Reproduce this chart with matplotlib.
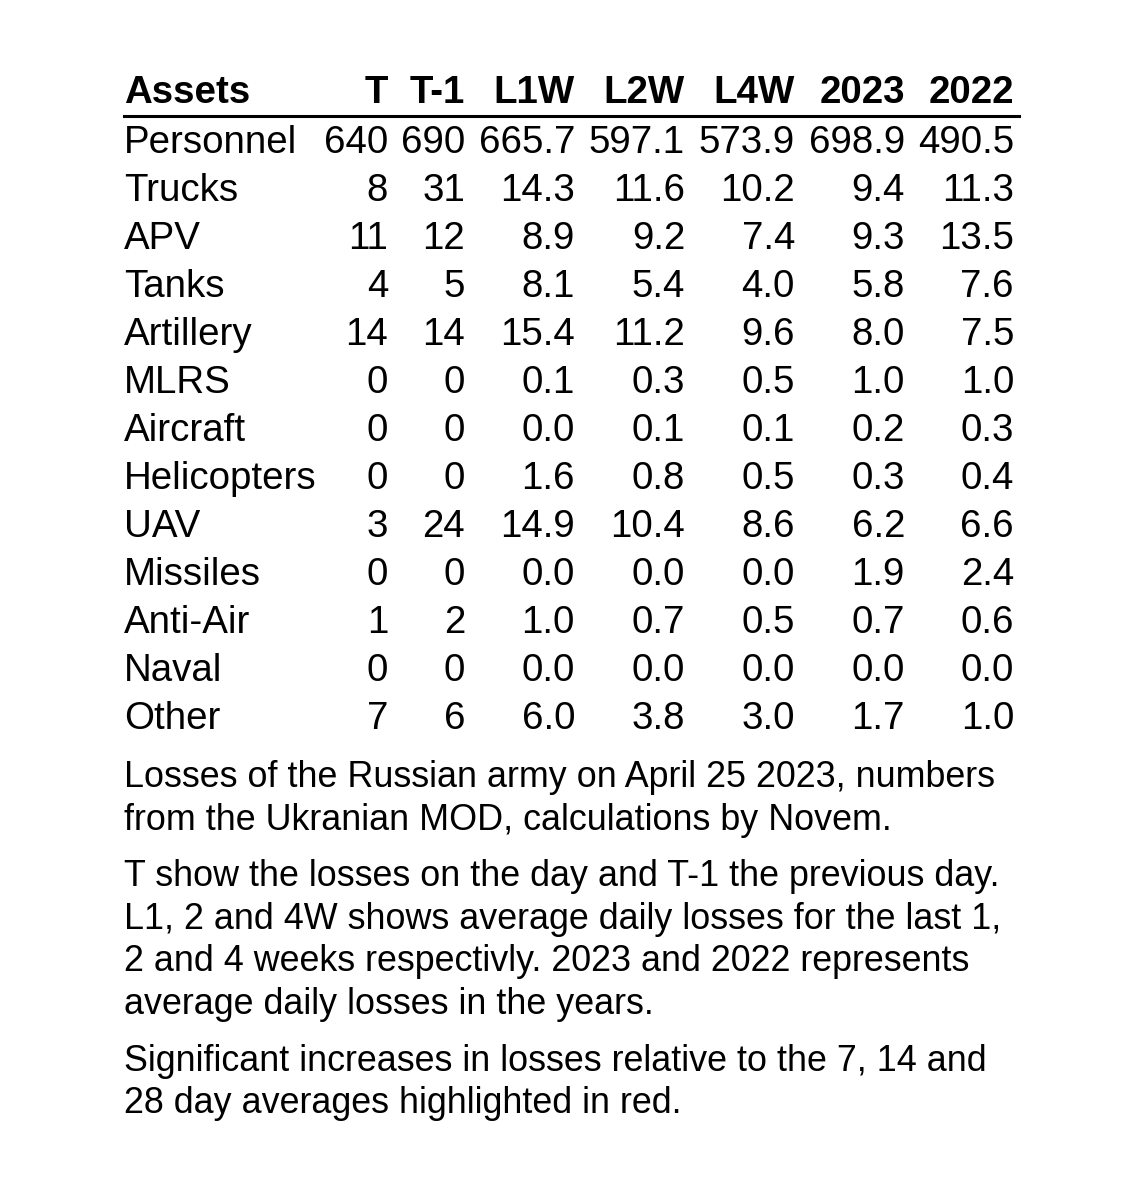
import matplotlib
matplotlib.use("Agg")
import matplotlib.pyplot as plt
from matplotlib.lines import Line2D

assets = ["Personnel", "Trucks", "APV", "Tanks", "Artillery", "MLRS", "Aircraft",
          "Helicopters", "UAV", "Missiles", "Anti-Air", "Naval", "Other"]
columns = ["T", "T-1", "L1W", "L2W", "L4W", "2023", "2022"]
t_day = [640, 8, 11, 4, 14, 0, 0, 0, 3, 0, 1, 0, 7]
t_prev = [690, 31, 12, 5, 14, 0, 0, 0, 24, 0, 2, 0, 6]
l1w = [665.7, 14.3, 8.9, 8.1, 15.4, 0.1, 0.0, 1.6, 14.9, 0.0, 1.0, 0.0, 6.0]
l2w = [597.1, 11.6, 9.2, 5.4, 11.2, 0.3, 0.1, 0.8, 10.4, 0.0, 0.7, 0.0, 3.8]
l4w = [573.9, 10.2, 7.4, 4.0, 9.6, 0.5, 0.1, 0.5, 8.6, 0.0, 0.5, 0.0, 3.0]
y2023 = [698.9, 9.4, 9.3, 5.8, 8.0, 1.0, 0.2, 0.3, 6.2, 1.9, 0.7, 0.0, 1.7]
y2022 = [490.5, 11.3, 13.5, 7.6, 7.5, 1.0, 0.3, 0.4, 6.6, 2.4, 0.6, 0.0, 1.0]

notes = [
    ["Losses of the Russian army on April 25 2023, numbers",
     "from the Ukranian MOD, calculations by Novem."],
    ["T show the losses on the day and T-1 the previous day.",
     "L1, 2 and 4W shows average daily losses for the last 1,",
     "2 and 4 weeks respectivly. 2023 and 2022 represents",
     "average daily losses in the years."],
    ["Significant increases in losses relative to the 7, 14 and",
     "28 day averages highlighted in red."],
]

W, H = 1140, 1182
plt.rcParams["font.family"] = ["Liberation Sans", "DejaVu Sans"]
fig = plt.figure(figsize=(W / 100, H / 100), dpi=100)
fig.patch.set_facecolor("white")


def put(x, y, s, **kw):
    # pixel coords, y measured from top
    fig.text(x / W, 1 - y / H, s, va="baseline", **kw)


col_right = [388, 465, 575, 685, 795, 905, 1014]
fs = 27.7

put(124, 103, "Assets", fontsize=fs, fontweight="bold")
for x, c in zip(col_right, columns):
    put(x, 103, c, fontsize=fs, fontweight="bold", ha="right")

fig.add_artist(Line2D([124 / W, 1019 / W], [1 - 116 / H, 1 - 116 / H],
                      color="black", lw=2.2, transform=fig.transFigure))

values = [t_day, t_prev, l1w, l2w, l4w, y2023, y2022]
for i, name in enumerate(assets):
    y = 153 + 48 * i
    put(124, y, name, fontsize=fs)
    for j, (x, col) in enumerate(zip(col_right, values)):
        s = str(col[i]) if j < 2 else f"{col[i]:.1f}"
        put(x, y, s, fontsize=fs, ha="right")

y = 787
for block in notes:
    for line in block:
        put(124, y, line, fontsize=25.8)
        y += 42.6
    y += 14

fig.savefig("out.png", dpi=100, facecolor="white")
